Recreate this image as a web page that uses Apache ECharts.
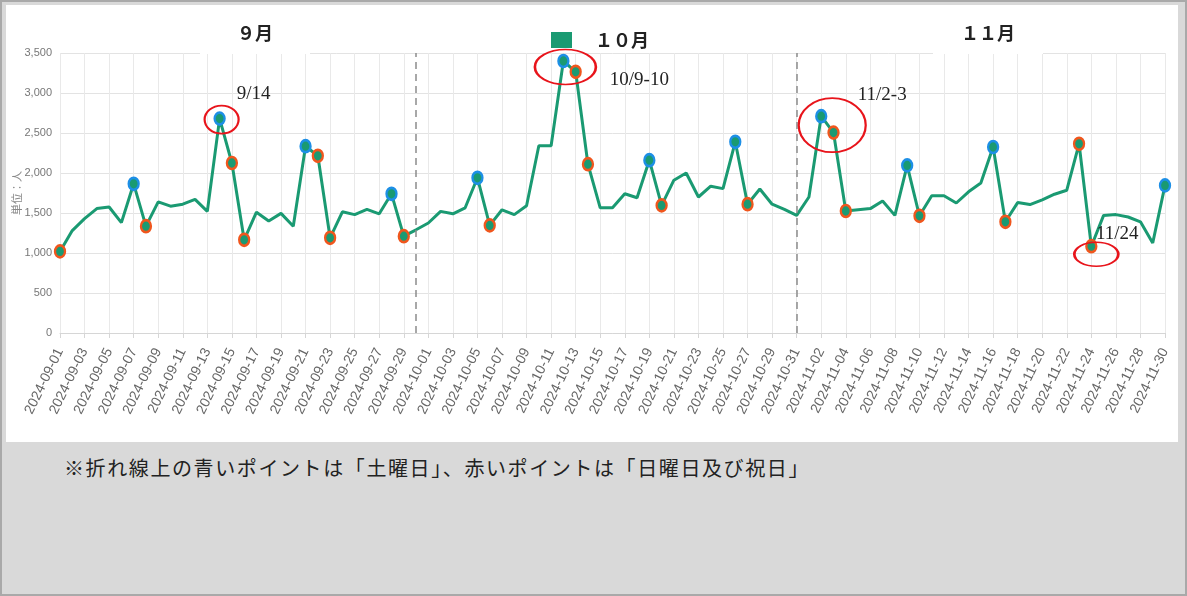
<!DOCTYPE html>
<html>
<head>
<meta charset="utf-8">
<script src="https://cdn.jsdelivr.net/npm/echarts@6/dist/echarts.min.js"></script>
<style>
  html, body { margin: 0; padding: 0; }
  body { width: 1187px; height: 596px; background: #d9d9d9; position: relative; overflow: hidden; }
  #frame { position: absolute; left: 0; top: 0; width: 1183px; height: 592px; border: 2px solid #a9a9a9; }
  #main { position: absolute; left: 6px; top: 5px; width: 1172px; height: 437px; background: #fff; }
  #note { position: absolute; left: 64px; top: 453px; font: 20px "Noto Sans CJK JP", sans-serif; letter-spacing: 1.6px; color: #222; white-space: nowrap; }
</style>
</head>
<body>
<div id="frame"></div>
<div id="main"></div>
<div id="note">※折れ線上の青いポイントは「土曜日」、赤いポイントは「日曜日及び祝日」</div>
<script>
// 日別の人数（単位：人）
const months = [['09', 30], ['10', 31], ['11', 30]]
const sepValues = [1020, 1280, 1430, 1555, 1575, 1380, 1865, 1335, 1640, 1585, 1610, 1670, 1520, 2680, 2125,
  1165, 1510, 1400, 1495, 1335, 2335, 2215, 1190, 1515, 1480, 1545, 1490, 1740, 1210, 1290]
const octValues = [1375, 1520, 1490, 1565, 1940, 1345, 1540, 1480, 1590, 2340, 2340, 3400, 3265, 2110, 1565, 1565,
  1740, 1690, 2160, 1595, 1910, 2000, 1700, 1835, 1805, 2390, 1610, 1800, 1610, 1545, 1470]
const novValues = [1700, 2710, 2505, 1525, 1540, 1555, 1650, 1470, 2095, 1465, 1715, 1715, 1625, 1765, 1875,
  2325, 1390, 1630, 1605, 1665, 1735, 1785, 2365, 1085, 1470, 1480, 1450, 1390, 1125, 1845]

// 土曜日（青）と日曜日・祝日（赤）
const saturdays = ['2024-09-07', '2024-09-14', '2024-09-21', '2024-09-28', '2024-10-05', '2024-10-12',
  '2024-10-19', '2024-10-26', '2024-11-02', '2024-11-09', '2024-11-16', '2024-11-30']
const holidays = ['2024-09-01', '2024-09-08', '2024-09-15', '2024-09-16', '2024-09-22', '2024-09-23',
  '2024-09-29', '2024-10-06', '2024-10-13', '2024-10-14', '2024-10-20', '2024-10-27', '2024-11-03',
  '2024-11-04', '2024-11-10', '2024-11-17', '2024-11-23', '2024-11-24']

// 注記（日付, 文字）
const notes = [['2024-09-14', '9/14'], ['2024-10-12', '10/9-10'], ['2024-11-02', '11/2-3'], ['2024-11-24', '11/24']]
const dividers = ['2024-09-30', '2024-10-31']
const yTicks = [0, 500, 1000, 1500, 2000, 2500, 3000, 3500]

const dates = []
months.forEach(([m, n]) => {
  for (let d = 1; d <= n; d++) dates.push('2024-' + m + '-' + String(d).padStart(2, '0'))
})
const values = sepValues.concat(octValues, novValues)

const green = '#1a9a72'
const blue = '#1d8fe6'
const red = '#f0561d'

// 注記の楕円の大きさ・ずらし量
const noteLayout = [
  { size: [34, 28], offset: [2, 1], text: [32, -26] },
  { size: [61, 35], offset: [2, 6], text: [74, 13] },
  { size: [67, 54], offset: [11, 9], text: [50, -30] },
  { size: [44, 24], offset: [5, 8], text: [21, -20] }
]

const seriesData = dates.map((d, i) => {
  let border = null
  if (saturdays.includes(d)) border = blue
  if (holidays.includes(d)) border = red
  if (!border) return { value: values[i], symbol: 'none' }
  return {
    value: values[i],
    symbol: 'circle',
    symbolSize: [10, 12],
    itemStyle: { color: green, borderColor: border, borderWidth: 2.5 }
  }
})

const markData = notes.map(([d, text], i) => {
  const lay = noteLayout[i]
  return {
    coord: [d, values[dates.indexOf(d)]],
    symbol: 'circle',
    symbolSize: lay.size,
    symbolOffset: lay.offset,
    itemStyle: { color: 'rgba(0,0,0,0)', borderColor: '#e8141b', borderWidth: 2 },
    label: {
      show: true,
      position: 'inside',
      offset: lay.text,
      formatter: text,
      color: '#222',
      fontSize: 19,
      fontFamily: 'Liberation Serif, serif'
    }
  }
})

const chart = echarts.init(document.getElementById('main'))
chart.setOption({
  animation: false,
  backgroundColor: '#fff',
  legend: {
    left: 540,
    top: 21,
    icon: 'rect',
    itemWidth: 21,
    itemHeight: 16,
    itemGap: 5,
    textStyle: { fontSize: 18, fontWeight: 'bold', color: '#222', fontFamily: 'Noto Sans CJK JP' },
    data: ['　１０月']
  },
  graphic: [
    {
      type: 'text', x: 249, y: 28, z: 100,
      style: {
        text: '９月', textAlign: 'center', textVerticalAlign: 'middle', fill: '#222',
        font: 'bold 18px "Noto Sans CJK JP"', backgroundColor: '#fff', padding: [6, 37, 18, 37]
      }
    },
    {
      type: 'text', x: 982, y: 28, z: 100,
      style: {
        text: '１１月', textAlign: 'center', textVerticalAlign: 'middle', fill: '#222',
        font: 'bold 18px "Noto Sans CJK JP"', backgroundColor: '#fff', padding: [6, 28, 18, 28]
      }
    }
  ],
  grid: { left: 54, right: 13, top: 48, bottom: 109, containLabel: false, outerBoundsMode: 'none' },
  xAxis: {
    type: 'category',
    boundaryGap: false,
    data: dates,
    axisLine: { lineStyle: { color: '#d6d6d6' } },
    axisTick: { interval: 1, length: 5, lineStyle: { color: '#d6d6d6' } },
    axisLabel: {
      interval: 1,
      rotate: 64,
      margin: 16,
      fontSize: 14,
      color: '#666',
      fontFamily: 'Liberation Sans, Arial, sans-serif'
    },
    splitLine: { show: true, interval: 1, lineStyle: { color: '#e9e9e9' } }
  },
  yAxis: {
    type: 'value',
    min: yTicks[0],
    max: yTicks[yTicks.length - 1],
    interval: 500,
    name: '単位：人',
    nameLocation: 'middle',
    nameGap: 38,
    nameMoveOverlap: false,
    nameTextStyle: { fontSize: 11, color: '#888', fontFamily: 'Noto Sans CJK JP' },
    axisLine: { show: false },
    axisTick: { show: false },
    axisLabel: {
      margin: 8,
      fontSize: 11,
      color: '#777',
      fontFamily: 'Liberation Sans, Arial, sans-serif',
      formatter: (v) => v.toLocaleString('en-US')
    },
    splitLine: { lineStyle: { color: '#e3e3e3' } }
  },
  series: [
    {
      name: '　１０月',
      type: 'line',
      data: seriesData,
      symbol: 'none',
      showAllSymbol: true,
      itemStyle: { color: green },
      lineStyle: { color: green, width: 3 },
      markLine: {
        silent: true,
        symbol: 'none',
        label: { show: false },
        lineStyle: { color: '#8c8c8c', type: [7, 5], width: 1.5 },
        data: dividers.map((d) => ({ xAxis: d }))
      },
      markPoint: { silent: true, data: markData }
    }
  ]
})
</script>
</body>
</html>
